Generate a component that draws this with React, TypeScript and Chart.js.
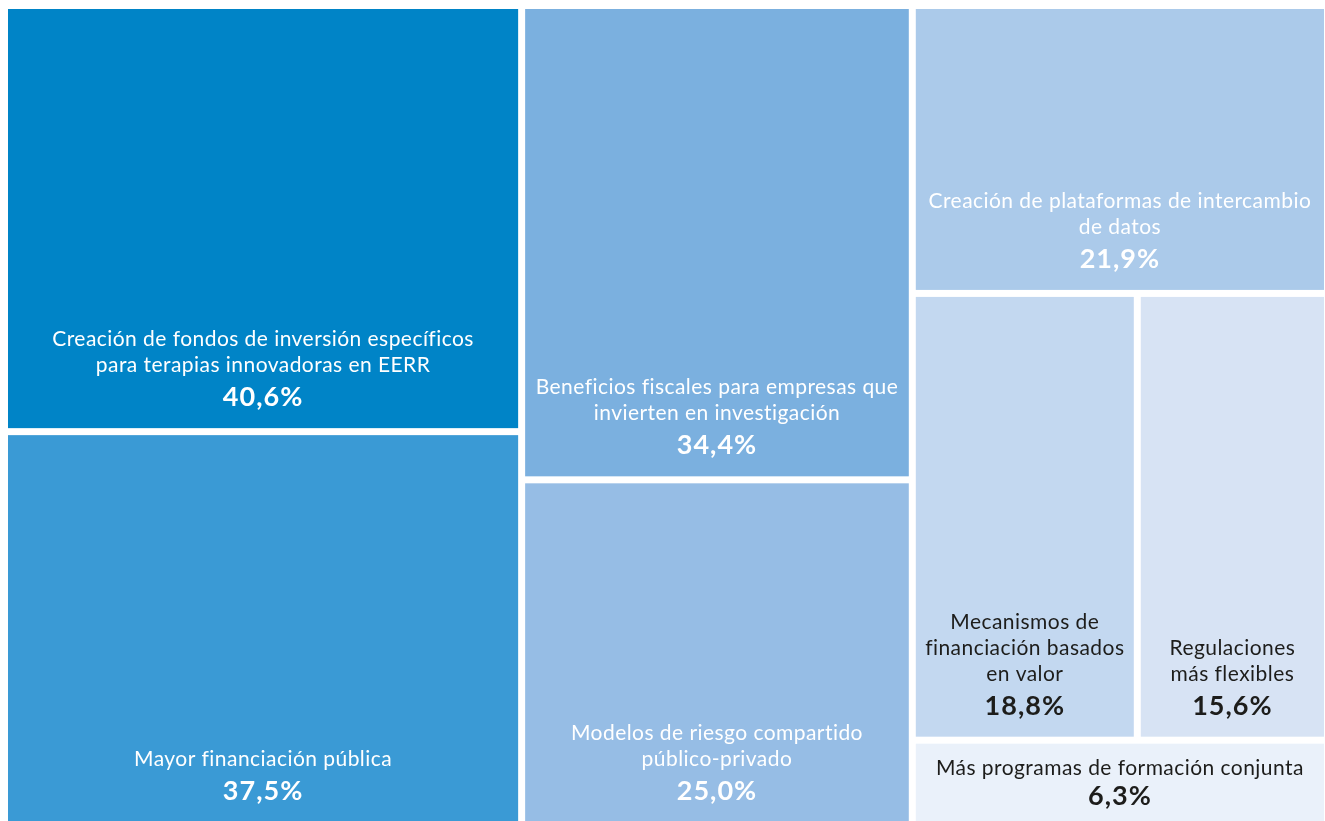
import React, { useEffect, useRef } from "react";
import { Chart, registerables } from "chart.js";

Chart.register(...registerables);

// ---- data ----
const categories: string[][] = [
  ["Creación de fondos de inversión específicos", "para terapias innovadoras en EERR"],
  ["Mayor financiación pública"],
  ["Beneficios fiscales para empresas que", "invierten en investigación"],
  ["Modelos de riesgo compartido", "público-privado"],
  ["Creación de plataformas de intercambio", "de datos"],
  ["Mecanismos de", "financiación basados", "en valor"],
  ["Regulaciones", "más flexibles"],
  ["Más programas de formación conjunta"],
];
const values: number[] = [40.6, 37.5, 34.4, 25.0, 21.9, 18.8, 15.6, 6.3];
const cellColors: string[] = [
  "#0084c7",
  "#3a9ad5",
  "#7bb0df",
  "#96bde5",
  "#abcaea",
  "#c3d8f0",
  "#d7e3f4",
  "#eaf1fa",
];
const textColors: string[] = [
  "#ffffff",
  "#ffffff",
  "#ffffff",
  "#ffffff",
  "#ffffff",
  "#1d1d1b",
  "#1d1d1b",
  "#1d1d1b",
];
// grouping of cells into strips (col = stacked vertically, row = side by side)
const strips: { dir: "col" | "row"; items: number[] }[] = [
  { dir: "col", items: [0, 1] },
  { dir: "col", items: [2, 3] },
  { dir: "row", items: [4] },
  { dir: "row", items: [5, 6] },
  { dir: "row", items: [7] },
];

const fmt = (v: number) => v.toFixed(1).replace(".", ",") + "%";

type Cell = { x0: number; y0: number; x1: number; y1: number };

function layoutCells(vals: number[]): Cell[] {
  const cells: Cell[] = new Array(vals.length);
  let x0 = 0, y0 = 0;
  const x1 = 1, y1 = 1;
  let remaining = vals.reduce((a, b) => a + b, 0);
  for (const s of strips) {
    const sum = s.items.reduce((a, i) => a + vals[i], 0);
    const frac = sum / remaining;
    if (s.dir === "col") {
      const w = (x1 - x0) * frac;
      let yy = y0;
      for (const i of s.items) {
        const h = (y1 - y0) * (vals[i] / sum);
        cells[i] = { x0, y0: yy, x1: x0 + w, y1: yy + h };
        yy += h;
      }
      x0 += w;
    } else {
      const h = (y1 - y0) * frac;
      let xx = x0;
      for (const i of s.items) {
        const w = (x1 - x0) * (vals[i] / sum);
        cells[i] = { x0: xx, y0, x1: xx + w, y1: y0 + h };
        xx += w;
      }
      y0 += h;
    }
    remaining -= sum;
  }
  return cells;
}

const FONT = "Lato, 'Noto Sans', sans-serif";

const treemapPlugin = {
  id: "treemapCells",
  afterDatasetsDraw(chart: any) {
    const { ctx, chartArea } = chart;
    const xs = chart.scales.x;
    const ys = chart.scales.y;
    const cells = layoutCells(values);
    const g = 3.5;
    ctx.save();
    cells.forEach((c, i) => {
      let l = xs.getPixelForValue(c.x0);
      let r = xs.getPixelForValue(c.x1);
      let t = ys.getPixelForValue(c.y0);
      let b = ys.getPixelForValue(c.y1);
      if (l > chartArea.left + 0.5) l += g;
      if (r < chartArea.right - 0.5) r -= g;
      if (t > chartArea.top + 0.5) t += g;
      if (b < chartArea.bottom - 0.5) b -= g;
      ctx.fillStyle = cellColors[i];
      ctx.fillRect(l, t, r - l, b - t);

      const lines = categories[i];
      const cx = (l + r) / 2;
      const h = b - t;
      const compact = h < 120;
      const lineGap = 26;
      const pctGap = compact ? 30 : 34;
      let pctBase: number;
      if (compact) {
        const blockH = 14 + (lines.length - 1) * lineGap + pctGap;
        pctBase = t + (h - blockH) / 2 + blockH;
      } else {
        pctBase = b - 22;
      }
      ctx.fillStyle = textColors[i];
      ctx.textAlign = "center";
      ctx.textBaseline = "alphabetic";
      ctx.font = `400 21px ${FONT}`;
      (ctx as any).letterSpacing = "0.45px";
      lines.forEach((ln, k) => {
        const yb = pctBase - pctGap - (lines.length - 1 - k) * lineGap;
        ctx.fillText(ln, cx, yb);
      });
      ctx.font = `700 27px ${FONT}`;
      (ctx as any).letterSpacing = "1px";
      ctx.fillText(fmt(values[i]), cx, pctBase);
      (ctx as any).letterSpacing = "0px";
    });
    ctx.restore();
  },
};

const W = 1316;
const H = 813;

export default function App() {
  const ref = useRef<HTMLCanvasElement | null>(null);
  useEffect(() => {
    if (!ref.current) return;
    const chart = new Chart(ref.current, {
      type: "scatter",
      data: {
        datasets: [
          {
            label: "cells",
            data: [],
            pointRadius: 0,
          },
        ],
      },
      options: {
        animation: false,
        responsive: false,
        maintainAspectRatio: false,
        devicePixelRatio: 1,
        layout: { padding: 0 },
        plugins: {
          legend: { display: false },
          tooltip: { enabled: false },
          title: { display: false },
        },
        scales: {
          x: { type: "linear", min: 0, max: 1, display: false },
          y: { type: "linear", min: 0, max: 1, reverse: true, display: false },
        },
      },
      plugins: [treemapPlugin],
    });
    return () => chart.destroy();
  }, []);
  return (
    <div style={{ position: "fixed", left: 8, top: 9, width: W, height: H }}>
      <canvas ref={ref} width={W} height={H} style={{ width: W, height: H, display: "block" }} />
    </div>
  );
}
